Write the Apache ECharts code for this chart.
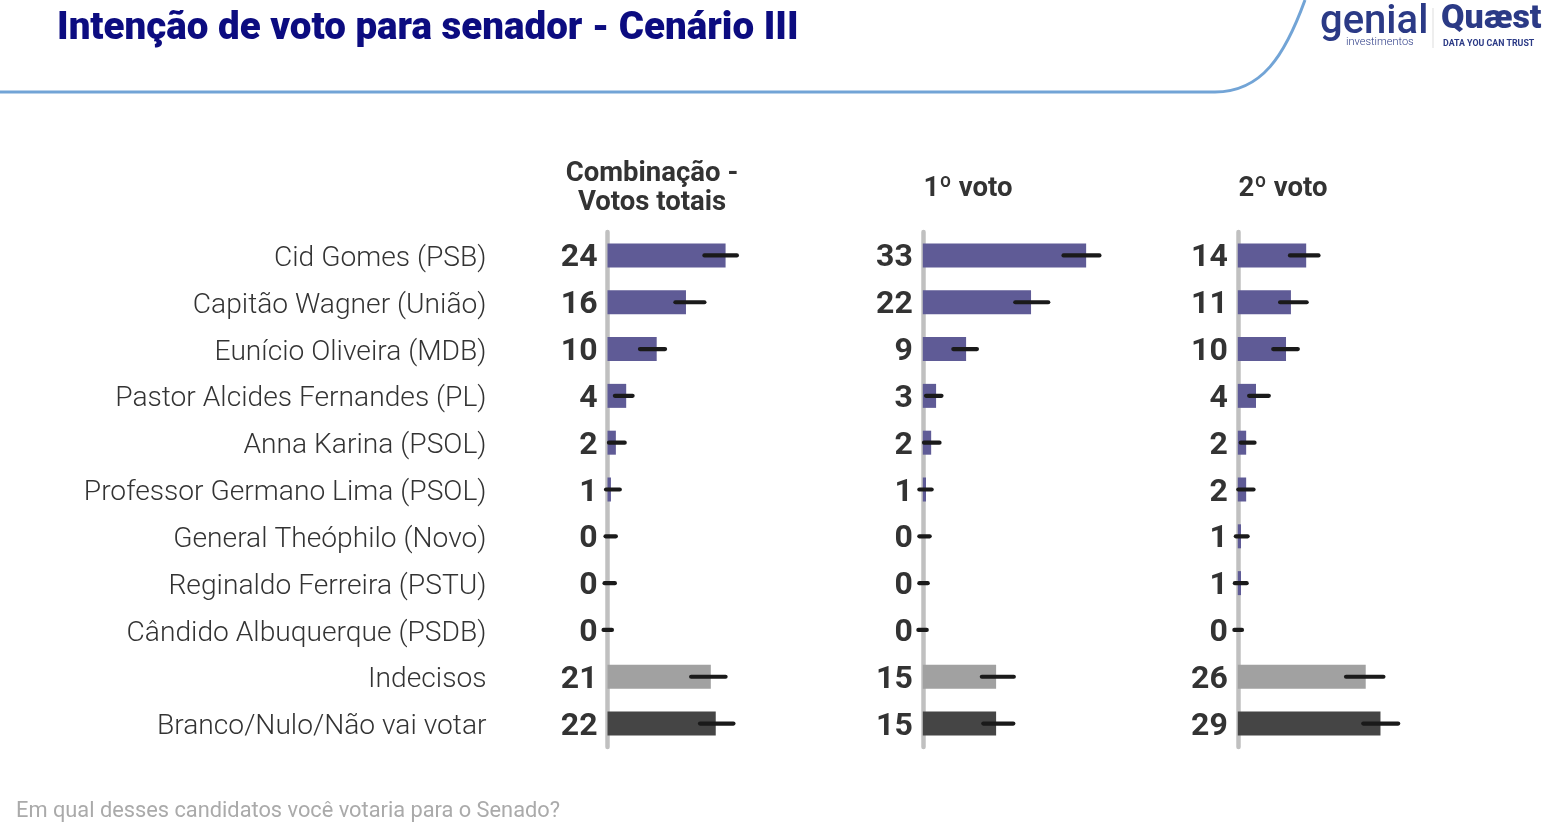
<!DOCTYPE html>
<html>
<head>
<meta charset="utf-8">
<script src="https://cdn.jsdelivr.net/npm/echarts@6/dist/echarts.min.js"></script>
<style>
  html, body { margin: 0; padding: 0; background: #fff; }
  #chart { width: 1548px; height: 833px; }
</style>
</head>
<body>
<div id="chart"></div>
<script>
// candidatos (ordem do gráfico)
const categories = [
  'Cid Gomes (PSB)', 'Capitão Wagner (União)', 'Eunício Oliveira (MDB)',
  'Pastor Alcides Fernandes (PL)', 'Anna Karina (PSOL)', 'Professor Germano Lima (PSOL)',
  'General Theóphilo (Novo)', 'Reginaldo Ferreira (PSTU)', 'Cândido Albuquerque (PSDB)',
  'Indecisos', 'Branco/Nulo/Não vai votar'
]
const panelTitles = ['Combinação -\nVotos totais', '1º voto', '2º voto']

// valores (%)
const totalVotes = [24, 15.95, 10, 3.8, 1.7, 0.7, 0, 0, 0, 21, 22]
const firstVote = [33.2, 22, 8.8, 2.7, 1.7, 0.65, 0, 0, 0, 14.9, 14.9]
const secondVote = [13.9, 10.8, 9.8, 3.7, 1.7, 1.7, 0.65, 0.65, 0, 26, 29]

// margem de erro (inferior / superior)
const totalLow = [19.7, 13.8, 6.6, 1.5, 0.3, -0.3, -0.4, -0.6, -0.8, 17.0, 18.8]
const totalHigh = [26.3, 19.7, 11.7, 5.1, 3.5, 2.5, 1.7, 1.5, 0.9, 24.0, 25.6]
const firstLow = [28.6, 18.8, 6.2, 0.65, 0.25, -0.7, -0.7, -0.7, -0.9, 12.0, 12.3]
const firstHigh = [35.9, 25.5, 11.0, 3.8, 3.4, 1.8, 1.4, 1.0, 0.8, 18.5, 18.4]
const secondLow = [10.6, 8.6, 7.2, 2.3, 0.6, 0.1, -0.4, -0.6, -0.7, 22.0, 25.5]
const secondHigh = [16.4, 14.0, 12.2, 6.3, 3.4, 3.2, 2.0, 1.8, 0.85, 29.6, 32.6]

const panels = [
  { values: totalVotes, low: totalLow, high: totalHigh },
  { values: firstVote, low: firstLow, high: firstHigh },
  { values: secondVote, low: secondLow, high: secondHigh },
]

const gridLefts = [607.5, 922.8, 1237.8]
const headerX = [647, 963, 1278]
const PURPLE = '#5f5b96'

const chart = echarts.init(document.getElementById('chart'))

const grids = [], xAxes = [], yAxes = [], series = [], titles = []

panels.forEach((p, i) => {
  grids.push({ left: gridLefts[i], top: 232, width: 196.8, height: 515 })
  xAxes.push({
    gridIndex: i, type: 'value', min: 0, max: 40, show: false
  })
  yAxes.push({
    gridIndex: i, type: 'category', data: categories, inverse: true,
    offset: 2,
    axisLine: { show: true, lineStyle: { color: '#c0c0c0', width: 4.5 } },
    axisTick: { show: false },
    axisLabel: {
      show: i === 0, margin: 119,
      formatter: (v) => '{n|' + v + '}',
      rich: {
        n: {
          fontFamily: 'Roboto', fontSize: 28.2, fontWeight: 300, color: '#333',
          padding: [7, 0, 0, 0]
        }
      }
    }
  })
  series.push({
    type: 'bar', xAxisIndex: i, yAxisIndex: i, barWidth: 24,
    data: p.values,
    itemStyle: {
      color: (d) => d.dataIndex === 9 ? '#a1a1a1' : d.dataIndex === 10 ? '#454545' : PURPLE
    },
    label: {
      show: true, position: 'left', distance: 10, offset: [0, 3],
      formatter: (d) => Math.round(d.value),
      fontFamily: 'Roboto', fontWeight: 'bold', fontSize: 32, color: '#333'
    },
    silent: true
  })
  series.push({
    type: 'custom', xAxisIndex: i, yAxisIndex: i,
    data: p.low.map((lo, k) => [lo, p.high[k], k]),
    encode: { x: [0, 1], y: 2 },
    renderItem: (params, api) => {
      const a = api.coord([api.value(0), api.value(2)])
      const b = api.coord([api.value(1), api.value(2)])
      return {
        type: 'line',
        shape: { x1: a[0], y1: a[1], x2: b[0], y2: b[1] },
        style: { stroke: '#1a1a1a', lineWidth: 4.2, lineCap: 'round' }
      }
    },
    z: 5, silent: true
  })
  titles.push({
    text: panelTitles[i], left: headerX[i], textAlign: 'center',
    top: i === 0 ? 155 : 170,
    textStyle: {
      fontFamily: 'Roboto', fontWeight: 'bold', fontSize: 27.5, color: '#333',
      lineHeight: 29, align: 'center'
    }
  })
})

titles.push({
  text: 'Intenção de voto para senador - Cenário III', left: 52, top: 5,
  textStyle: { fontFamily: 'Roboto', fontWeight: 900, fontSize: 38.5, color: '#0c0c80' }
})

chart.setOption({
  backgroundColor: '#fff',
  animation: false,
  title: titles,
  grid: grids,
  xAxis: xAxes,
  yAxis: yAxes,
  series: series,
  graphic: [
    {
      type: 'line', silent: true,
      shape: { x1: 0, y1: 92, x2: 1215, y2: 92 },
      style: { stroke: '#72a4d6', lineWidth: 3 }
    },
    {
      type: 'bezierCurve', silent: true,
      shape: { x1: 1215, y1: 92, cpx1: 1262, cpy1: 92, cpx2: 1285, cpy2: 55, x2: 1305, y2: 0 },
      style: { fill: null, stroke: '#72a4d6', lineWidth: 3 }
    },
    {
      type: 'text', left: 1320, top: 3, silent: true,
      style: { text: 'genial', font: '500 40px Roboto', fill: '#2b3a86' }
    },
    {
      type: 'text', left: 1346, top: 37, silent: true,
      style: { text: 'investimentos', font: '300 11px Roboto', fill: '#2b3a86' }
    },
    {
      type: 'line', silent: true,
      shape: { x1: 1433, y1: 8, x2: 1433, y2: 48 },
      style: { stroke: '#dddddd', lineWidth: 1 }
    },
    {
      type: 'text', left: 1441, top: 2, silent: true,
      style: { text: 'Quæst', font: '900 34px Roboto', fill: '#2b3a86' }
    },
    {
      type: 'text', left: 1443, top: 39, silent: true,
      style: { text: 'DATA YOU CAN TRUST', font: 'bold 8.8px Roboto', fill: '#2b3a86' }
    },
    {
      type: 'text', left: 16, top: 801, silent: true,
      style: { text: 'Em qual desses candidatos você votaria para o Senado?', font: '21.8px Roboto', fill: '#aaaaaa' }
    }
  ]
})
</script>
</body>
</html>
